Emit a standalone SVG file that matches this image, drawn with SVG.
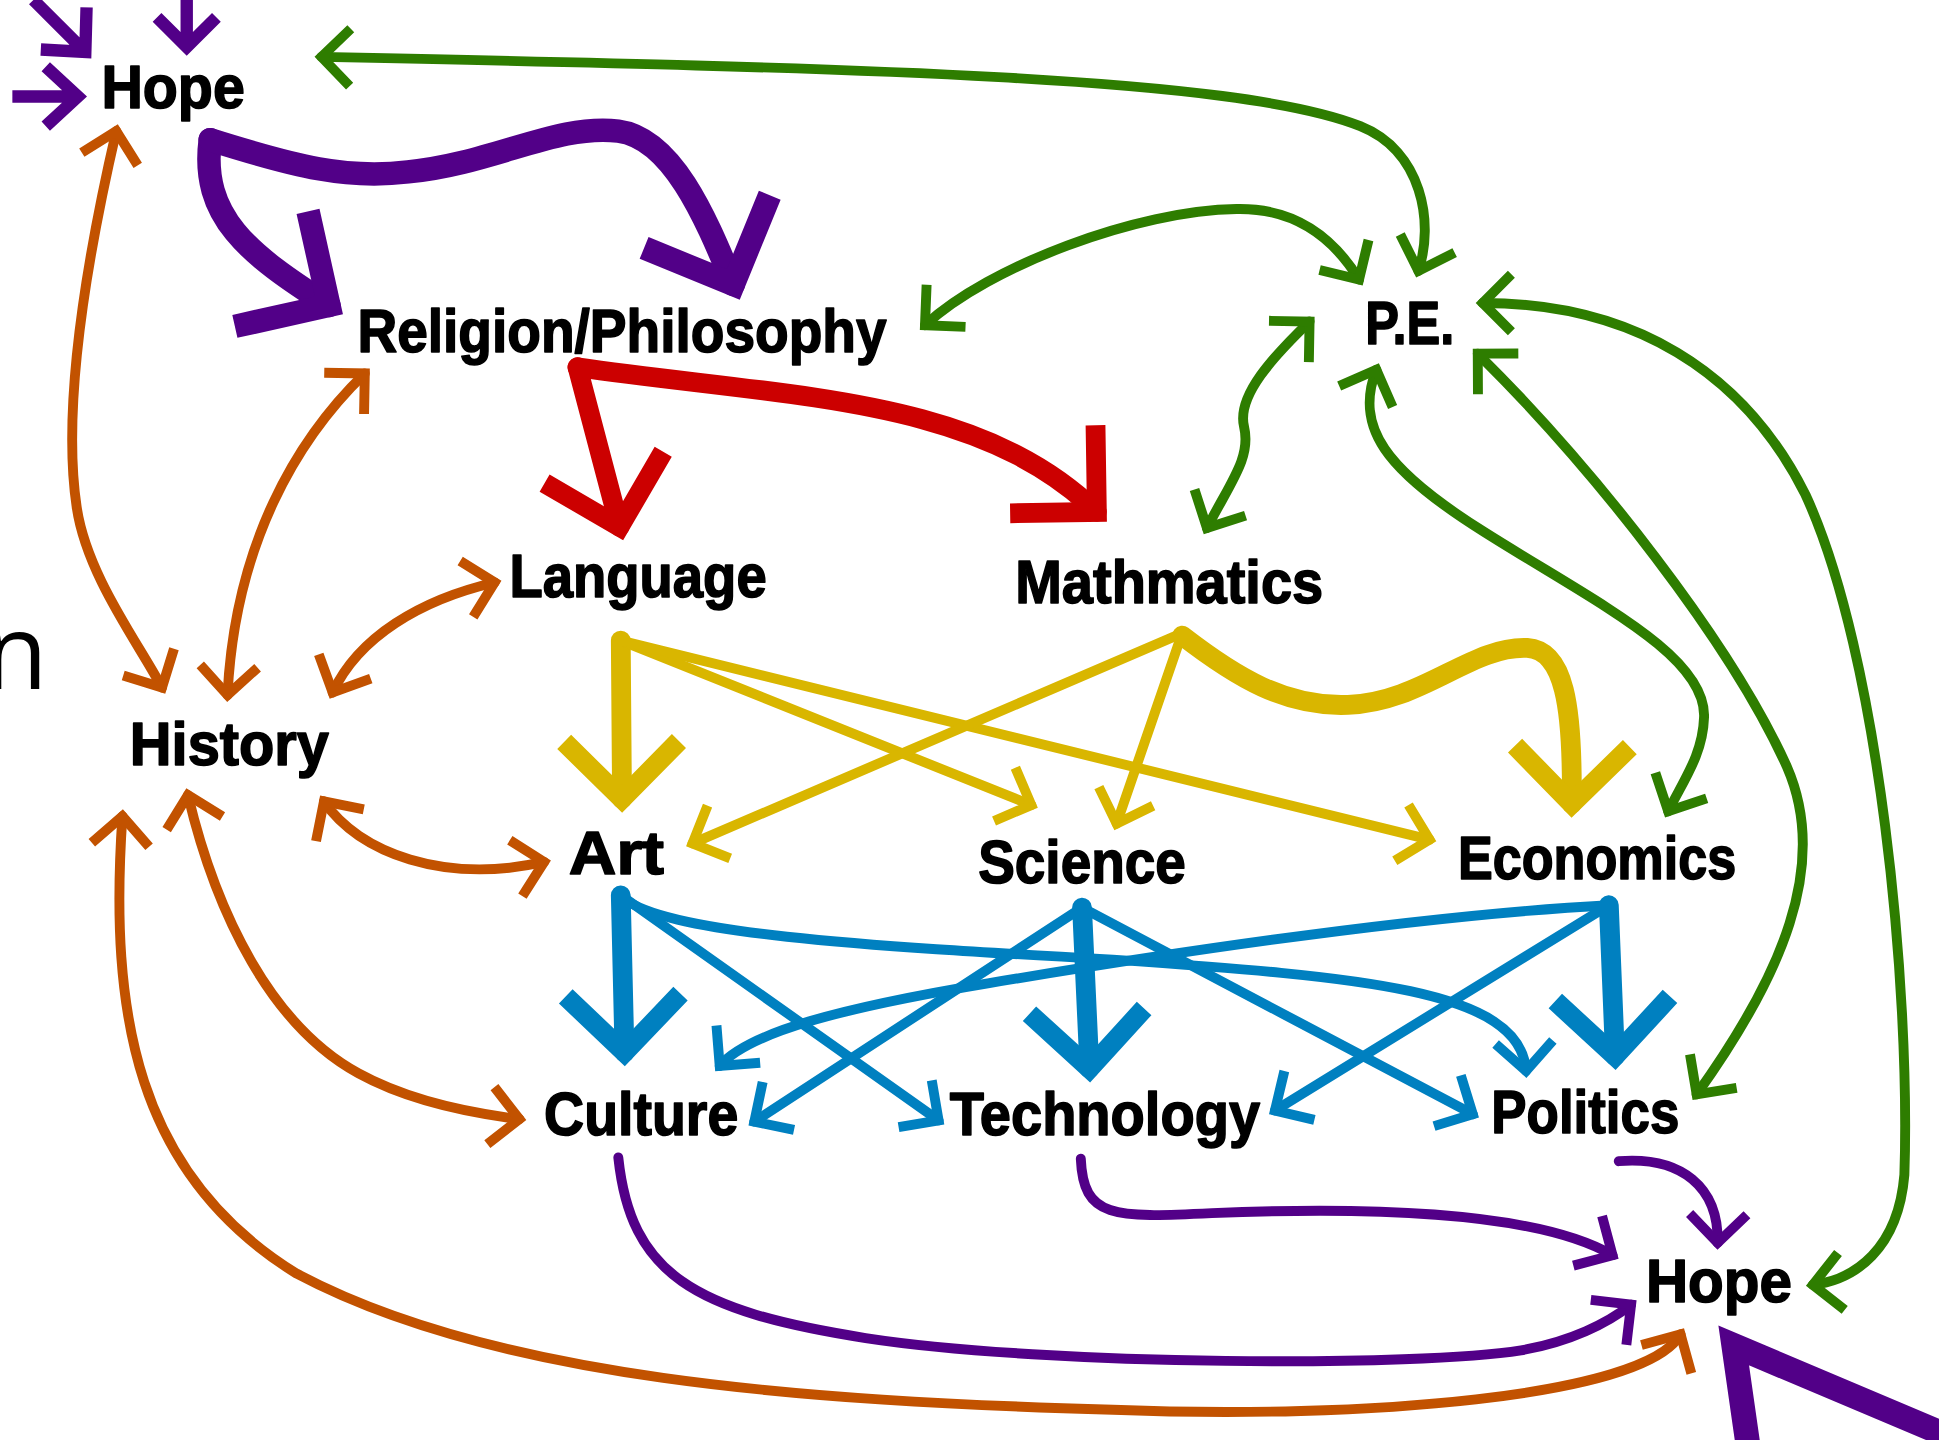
<svg xmlns="http://www.w3.org/2000/svg" width="1939" height="1440" viewBox="0 0 1939 1440">
<style>
.c{fill:none;stroke-linecap:round;stroke-linejoin:round}
.h{fill:none;stroke-linecap:butt;stroke-linejoin:miter;stroke-miterlimit:6}
.pu{stroke:#520088}.gr{stroke:#2e7d00}.or{stroke:#c25200}.rd{stroke:#cc0000}.ye{stroke:#d9b600}.bl{stroke:#0080c0}
.t{stroke-width:8}.tp{stroke-width:10}.k{stroke-width:16}.kp{stroke-width:19}
.n{font-family:"Liberation Sans",Arial,sans-serif;font-weight:bold;font-size:50px;fill:#000;stroke:#000;stroke-width:1.3;stroke-linejoin:round}
.edge{font-family:"Open Sans","Noto Sans",sans-serif;font-weight:400;font-size:84px;fill:#000}
</style>
<defs>
<marker id="mPu" viewBox="-5 -5 6 10" refX="0" refY="0" markerWidth="6" markerHeight="10" markerUnits="strokeWidth" orient="auto-start-reverse" overflow="visible"><path d="M-2.9,-2.9 L0,0 L-2.9,2.9" class="h" stroke="#520088" stroke-width="1"/></marker>
<marker id="mGr" viewBox="-5 -5 6 10" refX="0" refY="0" markerWidth="6" markerHeight="10" markerUnits="strokeWidth" orient="auto-start-reverse" overflow="visible"><path d="M-2.9,-2.9 L0,0 L-2.9,2.9" class="h" stroke="#2e7d00" stroke-width="1"/></marker>
<marker id="mOr" viewBox="-5 -5 6 10" refX="0" refY="0" markerWidth="6" markerHeight="10" markerUnits="strokeWidth" orient="auto-start-reverse" overflow="visible"><path d="M-2.9,-2.9 L0,0 L-2.9,2.9" class="h" stroke="#c25200" stroke-width="1"/></marker>
<marker id="mRd" viewBox="-5 -5 6 10" refX="0" refY="0" markerWidth="6" markerHeight="10" markerUnits="strokeWidth" orient="auto-start-reverse" overflow="visible"><path d="M-3.1,-3.1 L0,0 L-3.1,3.1" class="h" stroke="#cc0000" stroke-width="1"/></marker>
<marker id="mYe" viewBox="-5 -5 6 10" refX="0" refY="0" markerWidth="6" markerHeight="10" markerUnits="strokeWidth" orient="auto-start-reverse" overflow="visible"><path d="M-2.9,-2.9 L0,0 L-2.9,2.9" class="h" stroke="#d9b600" stroke-width="1"/></marker>
<marker id="mBl" viewBox="-5 -5 6 10" refX="0" refY="0" markerWidth="6" markerHeight="10" markerUnits="strokeWidth" orient="auto-start-reverse" overflow="visible"><path d="M-2.9,-2.9 L0,0 L-2.9,2.9" class="h" stroke="#0080c0" stroke-width="1"/></marker>
</defs>
<rect width="1939" height="1440" fill="#fff"/>
<g transform="scale(1.23661)">
<g id="connectors">
<!-- purple -->
<path class="h pu tp" d="M27,0 L69,42 M33,40 L69,42 L70,6"/>
<path class="h pu tp" d="M151,0 L151,38 M127,14 L151,38 L175,14"/>
<path class="h pu tp" d="M10,78 L63,78 M37,54 L63,78 L37,102"/>
<path class="c pu kp" d="M170,113 C162,175 200,205 266,247" marker-end="url(#mPu)"/>
<path class="c pu kp" d="M170,113 C240,135 280,145 330,139 C400,132 450,100 500,106 C545,112 572,180 593,230" marker-end="url(#mPu)"/>
<path class="c pu t" d="M500,936 C510,1030 560,1060 700,1082 C850,1105 1150,1105 1230,1092 C1270,1085 1300,1070 1319,1055" marker-end="url(#mPu)"/>
<path class="c pu t" d="M874,937 C876,985 900,985 980,981 C1100,976 1240,978 1304,1015" marker-end="url(#mPu)"/>
<path class="c pu t" d="M1309,939 C1360,935 1390,960 1389,1005" marker-end="url(#mPu)"/>
<path class="h pu" stroke-width="20" d="M1620,1180 L1402,1088 L1418,1200"/>
<!-- red -->
<path class="c rd k" d="M467,297 L501,426" marker-end="url(#mRd)"/>
<path class="c rd k" d="M467,297 C640,322 790,320 887,414" marker-end="url(#mRd)"/>
<!-- yellow -->
<path class="c ye k" d="M502,518 L503,646" marker-end="url(#mYe)"/>
<path class="c ye t" d="M502,518 L834,651" marker-end="url(#mYe)"/>
<path class="c ye t" d="M502,518 L1156,679" marker-end="url(#mYe)"/>
<path class="c ye t" d="M956,512 L560,682" marker-end="url(#mYe)"/>
<path class="c ye t" d="M956,512 L903,666" marker-end="url(#mYe)"/>
<path class="c ye k" d="M956,514 C1000,548 1040,572 1090,570 C1150,568 1190,522 1235,524 C1265,526 1272,570 1271,650" marker-end="url(#mYe)"/>
<!-- blue -->
<path class="c bl k" d="M502,724 L505,851" marker-end="url(#mBl)"/>
<path class="c bl t" d="M502,724 L759,906" marker-end="url(#mBl)"/>
<path class="c bl t" d="M502,724 C530,755 700,765 900,776 C1100,790 1230,800 1234,866" marker-end="url(#mBl)"/>
<path class="c bl k" d="M875,734 L881,864" marker-end="url(#mBl)"/>
<path class="c bl t" d="M875,734 L610,907" marker-end="url(#mBl)"/>
<path class="c bl t" d="M875,734 L1191,901" marker-end="url(#mBl)"/>
<path class="c bl k" d="M1301,732 L1306,854" marker-end="url(#mBl)"/>
<path class="c bl t" d="M1301,732 L1031,898" marker-end="url(#mBl)"/>
<path class="c bl t" d="M1301,732 C1150,740 950,770 800,795 C680,815 605,835 582,862" marker-end="url(#mBl)"/>
<!-- orange -->
<path class="c or t" d="M94,106 C70,210 50,330 62,410 C70,465 112,520 131,556" marker-start="url(#mOr)" marker-end="url(#mOr)"/>
<path class="c or t" d="M295,302 C240,355 190,440 184,562" marker-start="url(#mOr)" marker-end="url(#mOr)"/>
<path class="c or t" d="M400,471 C340,485 290,515 269,560" marker-start="url(#mOr)" marker-end="url(#mOr)"/>
<path class="c or t" d="M262,648 C290,690 360,715 440,697" marker-start="url(#mOr)" marker-end="url(#mOr)"/>
<path class="c or t" d="M152,643 C175,740 220,830 290,868 C330,890 380,900 420,905" marker-start="url(#mOr)" marker-end="url(#mOr)"/>
<path class="c or t" d="M99,660 C88,820 110,950 240,1030 C400,1115 650,1133 900,1140 C1100,1148 1330,1130 1359,1079" marker-start="url(#mOr)" marker-end="url(#mOr)"/>
<!-- green -->
<path class="c gr t" d="M260,46 C700,55 1000,62 1100,102 C1150,122 1160,180 1147,219" marker-start="url(#mGr)" marker-end="url(#mGr)"/>
<path class="c gr t" d="M748,263 C800,215 920,170 1000,169 C1050,168 1080,195 1099,226" marker-start="url(#mGr)" marker-end="url(#mGr)"/>
<path class="c gr t" d="M976,427 C995,390 1012,370 1006,345 C1000,320 1030,288 1059,260" marker-start="url(#mGr)" marker-end="url(#mGr)"/>
<path class="c gr t" d="M1113,299 C1095,345 1120,380 1200,430 C1290,487 1380,530 1378,580 C1377,610 1362,630 1349,656" marker-start="url(#mGr)" marker-end="url(#mGr)"/>
<path class="c gr t" d="M1195,286 C1290,380 1400,520 1445,620 C1480,700 1440,790 1372,885" marker-start="url(#mGr)" marker-end="url(#mGr)"/>
<path class="c gr t" d="M1199,245 C1320,245 1410,300 1460,400 C1520,530 1545,800 1540,950 C1535,1010 1500,1035 1466,1039" marker-start="url(#mGr)" marker-end="url(#mGr)"/>
</g>
<g id="node-hope-top"><text class="n" x="82" y="87" textLength="116" lengthAdjust="spacingAndGlyphs">Hope</text></g>
<g id="node-religion"><text class="n" x="289" y="285" textLength="428" lengthAdjust="spacingAndGlyphs">Religion/Philosophy</text></g>
<g id="node-pe"><text class="n" x="1104" y="278" textLength="72" lengthAdjust="spacingAndGlyphs">P.E.</text></g>
<g id="node-language"><text class="n" x="412" y="483" textLength="208" lengthAdjust="spacingAndGlyphs">Language</text></g>
<g id="node-math"><text class="n" x="821" y="488" textLength="249" lengthAdjust="spacingAndGlyphs">Mathmatics</text></g>
<g id="node-history"><text class="n" x="105" y="619" textLength="161" lengthAdjust="spacingAndGlyphs">History</text></g>
<g id="node-art"><text class="n" x="460" y="707" textLength="77" lengthAdjust="spacingAndGlyphs">Art</text></g>
<g id="node-science"><text class="n" x="791" y="714" textLength="168" lengthAdjust="spacingAndGlyphs">Science</text></g>
<g id="node-economics"><text class="n" x="1179" y="711" textLength="225" lengthAdjust="spacingAndGlyphs">Economics</text></g>
<g id="node-culture"><text class="n" x="440" y="918" textLength="157" lengthAdjust="spacingAndGlyphs">Culture</text></g>
<g id="node-technology"><text class="n" x="768" y="918" textLength="251" lengthAdjust="spacingAndGlyphs">Technology</text></g>
<g id="node-politics"><text class="n" x="1206" y="916" textLength="152" lengthAdjust="spacingAndGlyphs">Politics</text></g>
<g id="node-hope-bottom"><text class="n" x="1331" y="1053" textLength="118" lengthAdjust="spacingAndGlyphs">Hope</text></g>
<g id="edge-text"><text class="edge" x="-13" y="557">n</text></g>
</g>
</svg>
